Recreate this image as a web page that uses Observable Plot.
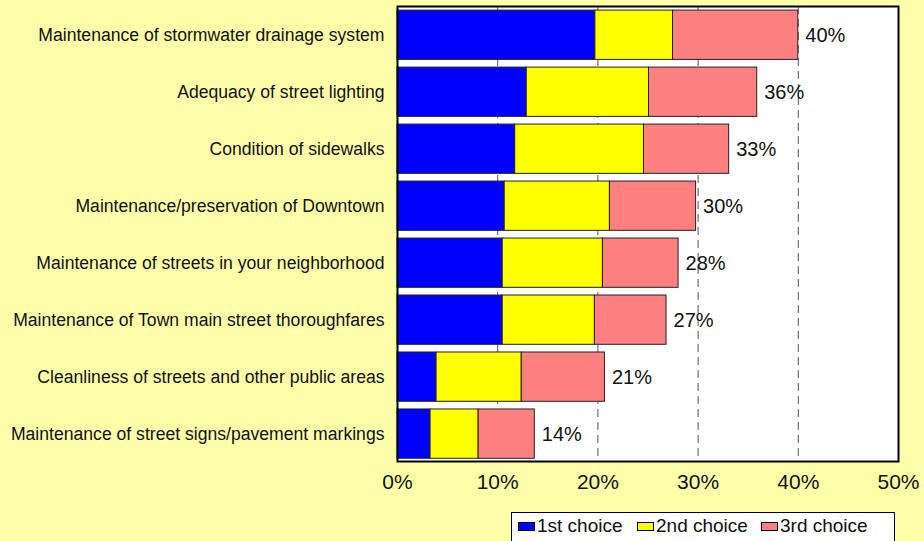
<!DOCTYPE html>
<html>
<head>
<meta charset="utf-8">
<script src="https://cdn.jsdelivr.net/npm/d3@7"></script>
<script src="https://cdn.jsdelivr.net/npm/@observablehq/plot@0.6"></script>
<style>
  html, body { margin: 0; padding: 0; background: #FFFFAA; }
  #wrap { position: relative; width: 924px; height: 541px; overflow: hidden; background: #FFFFAA; font-family: "Liberation Sans", Arial, sans-serif; }
  #chart { position: absolute; left: 0; top: 0; }
  #legend { position: absolute; left: 511px; top: 512px; width: 384px; height: 36px; background: #fff; border: 1px solid #000; box-sizing: border-box; }
  .sw { position: absolute; top: 9px; width: 17px; height: 9px; border: 1px solid #000; box-sizing: border-box; }
  .lt { position: absolute; top: 2px; font-size: 19px; line-height: 22px; color: #111; white-space: nowrap; }
</style>
</head>
<body>
<div id="wrap">
  <div id="chart"></div>
  <div id="legend"></div>
</div>
<script>
const categories = [
  "Maintenance of stormwater drainage system",
  "Adequacy of street lighting",
  "Condition of sidewalks",
  "Maintenance/preservation of Downtown",
  "Maintenance of streets in your neighborhood",
  "Maintenance of Town main street thoroughfares",
  "Cleanliness of streets and other public areas",
  "Maintenance of street signs/pavement markings"
];
const series = ["1st choice", "2nd choice", "3rd choice"];
const firstChoice  = [19.75, 12.9, 11.75, 10.7, 10.5, 10.5, 3.9, 3.3];
const secondChoice = [7.75, 12.2, 12.85, 10.5, 10.0, 9.2, 8.5, 4.8];
const thirdChoice  = [12.5, 10.8, 8.5, 8.6, 7.55, 7.15, 8.3, 5.6];
const colors = ["#0000FF", "#FFFF00", "#FF8080"];
const xTicks = [0, 10, 20, 30, 40, 50];
const legendX = [6, 125, 249];

const seriesValues = [firstChoice, secondChoice, thirdChoice];
const data = categories.flatMap((c, i) =>
  seriesValues.map((arr, j) => ({category: c, series: series[j], value: arr[i]})));
const totals = categories.map((c, i) => ({
  category: c,
  total: d3.sum(seriesValues, arr => arr[i])
}));

const chart = Plot.plot({
  width: 924,
  height: 500,
  marginTop: 6,
  marginBottom: 39,
  marginLeft: 397,
  marginRight: 26,
  style: {background: "transparent", fontFamily: "'Liberation Sans', Arial, sans-serif", color: "#111", overflow: "visible"},
  x: {domain: [0, 50], label: null},
  y: {domain: categories, paddingInner: 0.135, paddingOuter: 0.06, align: 0.6, round: false, label: null},
  color: {domain: series, range: colors},
  marks: [
    Plot.frame({fill: "white", stroke: null}),
    Plot.ruleX(xTicks.filter(t => t > 0 && t < 50), {stroke: "#555", strokeDasharray: "8,5", strokeWidth: 1}),
    Plot.barX(data, Plot.stackX({x: "value", y: "category", fill: "series", stroke: "#222", strokeWidth: 1})),
    Plot.text(totals, {x: "total", y: "category", text: d => Math.round(d.total) + "%", textAnchor: "start", dx: 7, fontSize: 20, fill: "#111"}),
    Plot.frame({stroke: "#000", strokeWidth: 2}),
    Plot.axisX({ticks: xTicks, tickFormat: d => d + "%", tickSize: 0, tickPadding: 13, fontSize: 21, label: null, fill: "#111"}),
    Plot.axisY({tickSize: 0, tickPadding: 13, fontSize: 17.6, label: null, fill: "#111"})
  ]
});
document.getElementById("chart").appendChild(chart);

const legend = document.getElementById("legend");
series.forEach((s, i) => {
  const sw = document.createElement("div");
  sw.className = "sw";
  sw.style.left = legendX[i] + "px";
  sw.style.background = colors[i];
  legend.appendChild(sw);
  const t = document.createElement("div");
  t.className = "lt";
  t.style.left = (legendX[i] + 19) + "px";
  t.textContent = s;
  legend.appendChild(t);
});
</script>
</body>
</html>
